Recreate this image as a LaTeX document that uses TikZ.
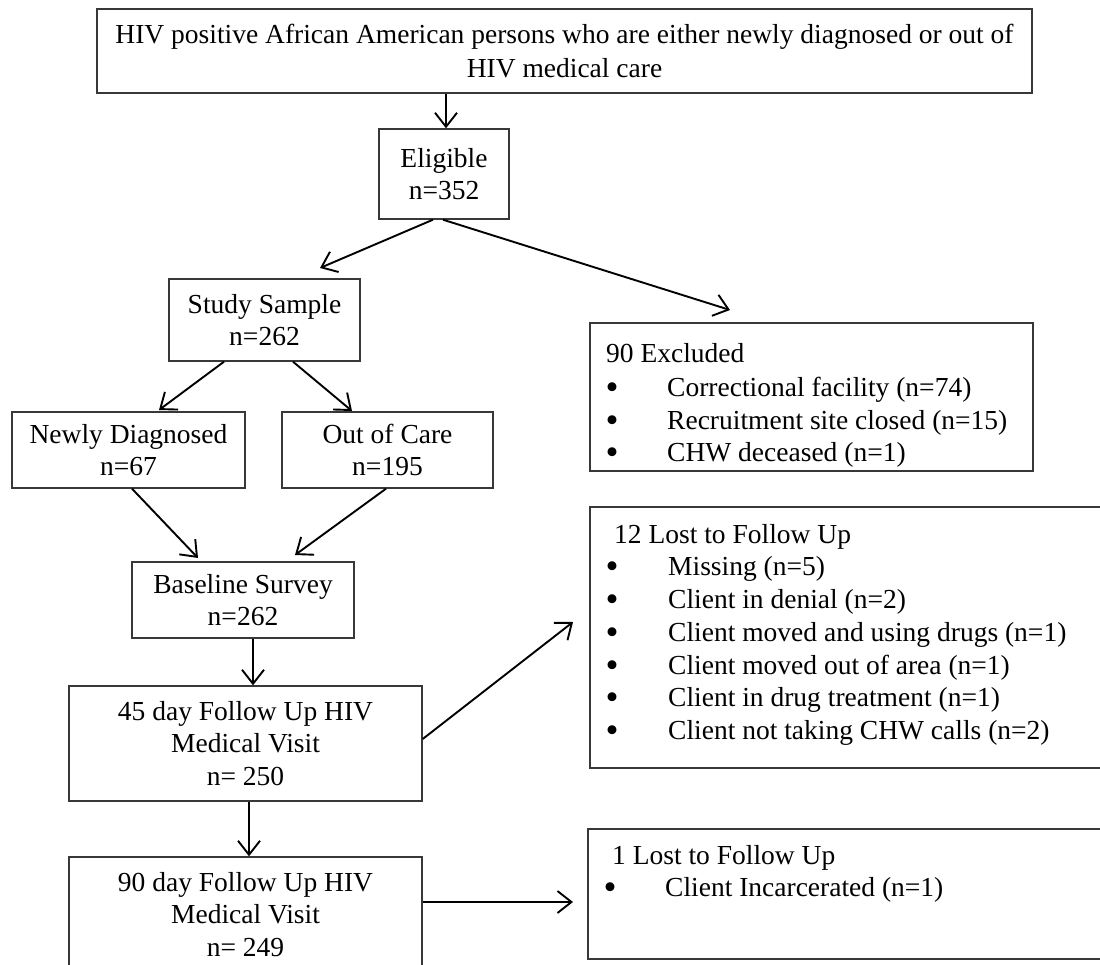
\documentclass[tikz,border=0pt]{standalone}
\usepackage{fontspec}
\setmainfont{Liberation Serif}
\usetikzlibrary{arrows.meta}
\tikzset{
  box/.style={draw=black!78, line width=1.4pt, inner sep=0pt, align=center,
    font=\fontsize{27.5}{32.5}\selectfont},
  txt/.style={inner sep=0pt, align=left, anchor=north west,
    font=\fontsize{27.5}{32.7}\selectfont},
  arr/.style={line width=1.9pt, -{Straight Barb[length=14pt,width=22pt,line width=1.9pt]}}
}
\newcommand{\bul}[2]{\hspace*{#1}\makebox[#2][l]{\smash{\raisebox{-3pt}{\scalebox{1.35}{•}}}}}
\begin{document}
\begin{tikzpicture}[x=1pt,y=-1pt]
\useasboundingbox (0,0) rectangle (1100,965);
\clip (0,0) rectangle (1100,965);
% main column boxes
\node[box, minimum width=935pt, minimum height=84pt,
  font=\fontsize{27.5}{34}\selectfont] (top) at (564.5,51)
  {HIV positive African American persons who are either newly diagnosed or out of\\HIV medical care};
\node[box, minimum width=130pt, minimum height=90pt] (elig) at (444,174) {Eligible\\n=352};
\node[box, minimum width=191pt, minimum height=82pt] (study) at (264.5,320) {Study Sample\\n=262};
\node[box, minimum width=233pt, minimum height=76pt] (newly) at (128.5,450) {Newly Diagnosed\\n=67};
\node[box, minimum width=211pt, minimum height=76pt] (ooc) at (387.5,450) {Out of Care\\n=195};
\node[box, minimum width=222pt, minimum height=76pt] (base) at (243,600) {Baseline Survey\\n=262};
\node[box, minimum width=353pt, minimum height=115pt] (fu45) at (245.5,743.5) {45 day Follow Up HIV\\Medical Visit\\n= 250};
\node[box, minimum width=353pt, minimum height=115pt] (fu90) at (245.5,914.5) {90 day Follow Up HIV\\Medical Visit\\n= 249};
% side boxes
\node[box, minimum width=443pt, minimum height=148pt] (excl) at (811.5,397) {};
\node[box, minimum width=530pt, minimum height=261pt] (lost12) at (855,637.5) {};
\node[box, minimum width=532pt, minimum height=130pt] (lost1) at (854,894) {};
\node[txt] (excltxt) at (606,343) {90 Excluded\\[1.5pt]
  \bul{-0.5pt}{61.5pt}Correctional facility (n=74)\\
  \bul{-0.5pt}{61.5pt}Recruitment site closed (n=15)\\
  \bul{-0.5pt}{61.5pt}CHW deceased (n=1)};
\node[txt] (lost12txt) at (614,524) {12 Lost to Follow Up\\
  \bul{-8.5pt}{62.5pt}Missing (n=5)\\
  \bul{-8.5pt}{62.5pt}Client in denial (n=2)\\
  \bul{-8.5pt}{62.5pt}Client moved and using drugs (n=1)\\
  \bul{-8.5pt}{62.5pt}Client moved out of area (n=1)\\
  \bul{-8.5pt}{62.5pt}Client in drug treatment (n=1)\\
  \bul{-8.5pt}{62.5pt}Client not taking CHW calls (n=2)};
\node[txt] (lost1txt) at (612,845) {1 Lost to Follow Up\\
  \bul{-8.5pt}{61.5pt}Client Incarcerated (n=1)};
% connectors
\coordinate (t1) at (320,268);
\coordinate (t2) at (730,310);
\coordinate (t3) at (159,410);
\coordinate (t4) at (352,411);
\coordinate (t5) at (198,558);
\coordinate (t6) at (295,555);
\coordinate (t7) at (573,622);
\coordinate (t8) at (573,902);
\draw[arr] (top.south -| 446,0) -- (elig.north -| 446,0);
\draw[arr] (elig.south -| 433,0) -- (t1);
\draw[arr] (elig.south -| 443,0) -- (t2);
\draw[arr] (study.south -| 224,0) -- (t3);
\draw[arr] (study.south -| 293,0) -- (t4);
\draw[arr] (newly.south -| 132,0) -- (t5);
\draw[arr] (ooc.south -| 386,0) -- (t6);
\draw[arr] (base.south -| 253,0) -- (fu45.north -| 253,0);
\draw[arr] (fu45.east |- 0,739) -- (t7);
\draw[arr] (fu45.south -| 249,0) -- (fu90.north -| 249,0);
\draw[arr] (fu90.east |- 0,902) -- (t8);
\end{tikzpicture}
\end{document}
